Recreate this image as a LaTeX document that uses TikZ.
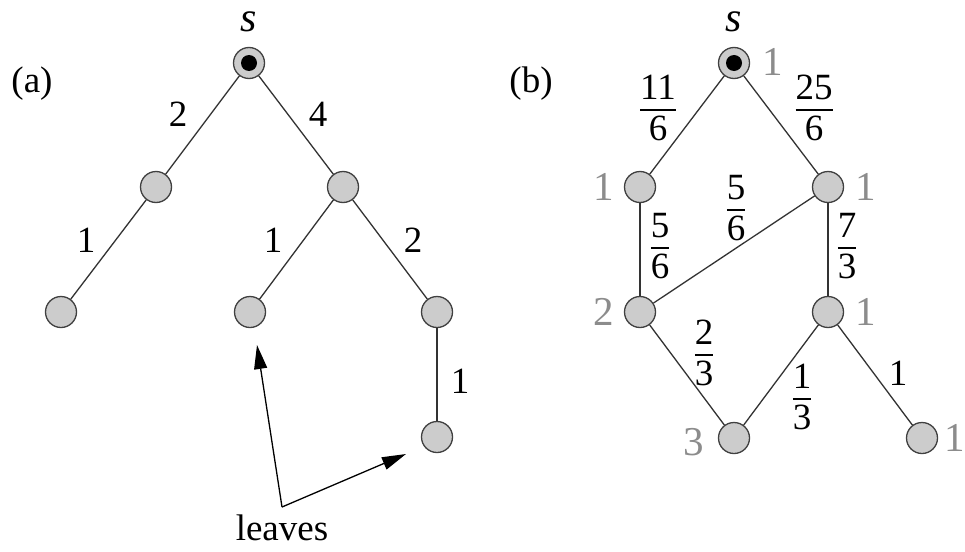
\documentclass[tikz,border=0pt]{standalone}
\usepackage{fontspec}
\setmainfont{Liberation Serif}
\usetikzlibrary{arrows.meta}
\newcommand\myfr[2]{$\displaystyle{\textrm{#1}\above 1.7pt\textrm{#2}}$}
\tikzset{
 vert/.style={circle, draw=black!75, fill=black!20, line width=1.3pt, minimum size=31pt, inner sep=0pt},
 dotc/.style={circle, fill=black, minimum size=16pt, inner sep=0pt},
 edge/.style={draw=black!80, line width=1.3pt},
 lab/.style={font=\fontsize{37}{40}\selectfont, inner sep=0pt},
 glab/.style={font=\fontsize{41}{44}\selectfont, text=black!45, inner sep=0pt},
 slab/.style={font=\fontsize{42}{44}\selectfont\itshape, inner sep=0pt},
 arr/.style={draw=black, line width=1.3pt, -{Triangle[length=24pt,width=13pt]}}
}
\begin{document}
\begin{tikzpicture}[x=1pt,y=-1pt]
\useasboundingbox[fill=white] (0,0) rectangle (965,551);
% ---------- (a) ----------
\node[lab] (la) at (32,84) {(a)};
\node[slab] (sa) at (249,22) {s};
\node[vert] (a0) at (249,63) {};
\node[dotc] (a0d) at (a0) {};
\node[vert] (a1) at (156,187) {};
\node[vert] (a2) at (343,187) {};
\node[vert] (a3) at (61,312) {};
\node[vert] (a4) at (250,312) {};
\node[vert] (a5) at (437,312) {};
\node[vert] (a6) at (437,437) {};
\draw[edge] (a0) -- (a1);
\draw[edge] (a0) -- (a2);
\draw[edge] (a1) -- (a3);
\draw[edge] (a2) -- (a4);
\draw[edge] (a2) -- (a5);
\draw[edge] (a5) -- (a6);
\node[lab] (e1) at (178,114) {2};
\node[lab] (e2) at (318,114) {4};
\node[lab] (e3) at (86,240) {1};
\node[lab] (e4) at (273,240) {1};
\node[lab] (e5) at (413,240) {2};
\node[lab] (e6) at (460,381) {1};
\node[lab] (lv) at (282,528) {leaves};
\coordinate (lc) at (282,507);
\coordinate (t1) at (257,345);
\coordinate (t2) at (406,454);
\draw[arr] (lc) -- (t1);
\draw[arr] (lc) -- (t2);
% ---------- (b) ----------
\node[lab] (lb) at (531,84) {(b)};
\node[slab] (sb) at (734,22) {s};
\node[vert] (b0) at (734,63) {};
\node[dotc] (b0d) at (b0) {};
\node[vert] (b1) at (640,187) {};
\node[vert] (b2) at (828,187) {};
\node[vert] (b3) at (640,312) {};
\node[vert] (b4) at (828,312) {};
\node[vert] (b5) at (734,438) {};
\node[vert] (b6) at (922,438) {};
\draw[edge] (b0) -- (b1);
\draw[edge] (b0) -- (b2);
\draw[edge] (b1) -- (b3);
\draw[edge] (b2) -- (b3);
\draw[edge] (b2) -- (b4);
\draw[edge] (b3) -- (b5);
\draw[edge] (b4) -- (b5);
\draw[edge] (b4) -- (b6);
\node[lab] (f1) at (658,108) {\myfr{11}{6}};
\node[lab] (f2) at (814,108) {\myfr{25}{6}};
\node[lab] (f3) at (736,208) {\myfr{5}{6}};
\node[lab] (f4) at (660,246) {\myfr{5}{6}};
\node[lab] (f5) at (847,246) {\myfr{7}{3}};
\node[lab] (f6) at (704,353) {\myfr{2}{3}};
\node[lab] (f7) at (802,397) {\myfr{1}{3}};
\node[lab] (f8) at (898,373) {1};
\node[glab] (g0) at (773,62) {1};
\node[glab] (g1) at (604,187) {1};
\node[glab] (g2) at (866,187) {1};
\node[glab] (g3) at (604,312) {2};
\node[glab] (g4) at (866,312) {1};
\node[glab] (g5) at (694,442) {3};
\node[glab] (g6) at (955,438) {1};
\end{tikzpicture}
\end{document}
